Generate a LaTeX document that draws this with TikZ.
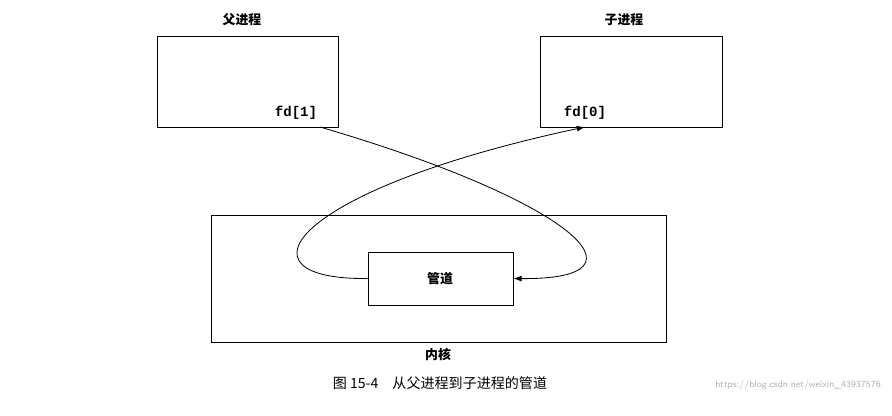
\documentclass[tikz,border=0pt]{standalone}
\usepackage{fontspec}
\setmainfont{Liberation Serif}
\setmonofont{Liberation Mono}
\newfontfamily\cjk{Noto Sans CJK SC}
\usetikzlibrary{arrows.meta}
\begin{document}
\begin{tikzpicture}[x=0.03cm,y=-0.03cm,
  bx/.style={draw,line width=0.7pt},
  lbl/.style={font=\cjk\bfseries\fontsize{11}{13}\selectfont},
  fdl/.style={font=\ttfamily\bfseries\fontsize{12}{14}\selectfont},
  conn/.style={line width=0.7pt,-{Latex[length=7pt,width=5pt]}}]
\useasboundingbox[fill=white] (0,0) rectangle (892,415);
\node[bx,minimum width=181*0.03cm,minimum height=91*0.03cm] (par) at (247.5,81.5) {};
\node[bx,minimum width=182*0.03cm,minimum height=91*0.03cm] (chi) at (631,81.5) {};
\node[bx,minimum width=455*0.03cm,minimum height=127*0.03cm] (ker) at (438.5,278.5) {};
\node[bx,minimum width=145*0.03cm,minimum height=53*0.03cm] (pipe) at (440.5,278.5) {};
\node[lbl] (tp) at (242,20) {父进程};
\node[lbl] (tc) at (624,20) {子进程};
\node[lbl] (tk) at (438,355) {内核};
\node[lbl] (tpipe) at (440,279) {管道};
\node[fdl] (fd1) at (296,113) {fd[1]};
\node[fdl] (fd0) at (585,113) {fd[0]};
\coordinate (a) at (320,127);
\coordinate (b) at (585,127);
\draw[conn] (a) .. controls (570,200) and (660,280) .. (pipe.east);
\draw[conn] (pipe.west) .. controls (230,280) and (290,190) .. (b);
\node[font=\cjk\fontsize{12}{14}\selectfont] (cap) at (440,383) {图 15-4\quad 从父进程到子进程的管道};
\node[font=\sffamily\fontsize{8}{10}\selectfont,text=gray!60,anchor=east] (wm) at (885,385) {https://blog.csdn.net/weixin\_43937576};
\end{tikzpicture}
\end{document}
